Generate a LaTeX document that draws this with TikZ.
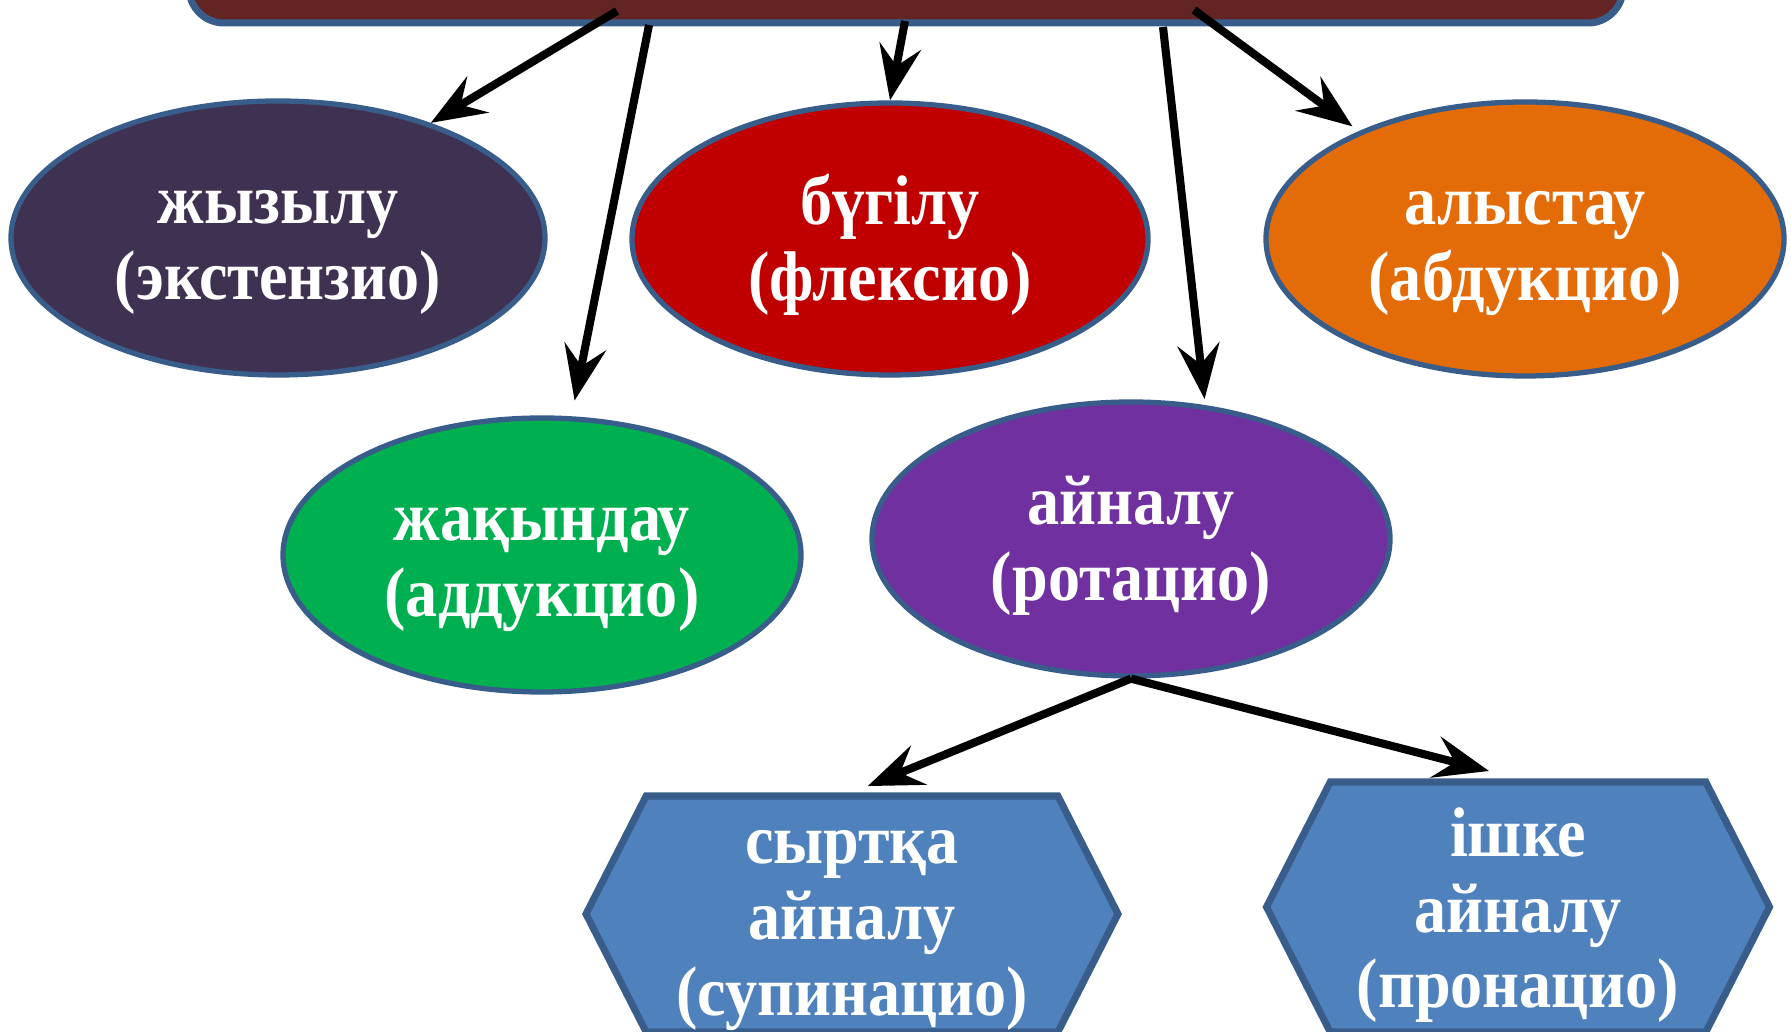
\documentclass[tikz,border=0pt]{standalone}
\usepackage{fontspec}
\setmainfont{Liberation Serif}[FakeStretch=0.913]
\usetikzlibrary{arrows.meta,positioning,calc,shapes.geometric,shapes.symbols}

\definecolor{barred}{HTML}{632523}
\definecolor{edge}{HTML}{385D8A}
\definecolor{extpurple}{HTML}{3F3151}
\definecolor{flexred}{HTML}{C00000}
\definecolor{abdorange}{HTML}{E36C09}
\definecolor{addgreen}{HTML}{00B050}
\definecolor{rotpurple}{HTML}{7030A0}
\definecolor{hexblue}{HTML}{4F81BD}

\begin{document}
\begin{tikzpicture}[
  font=\fontsize{20}{21.5}\selectfont\bfseries,
  >={Stealth[length=5.5mm, width=4.2mm, inset=2mm]},
  move/.style={ellipse, draw=edge, line width=1.5pt, text=white, align=center, text height=1.38cm, text depth=0.15cm, minimum width=5.18cm, minimum height=2.74cm, inner sep=0pt},
  turn/.style={signal, signal to=west and east, signal pointer angle=126, draw=edge, line width=2pt, fill=hexblue, text=white, align=center, text height=2.17cm, text depth=0.15cm, inner sep=0pt},
  link/.style={->, line width=2.3pt},
]
\useasboundingbox (0,0) rectangle (17.91,10.31);

% top bar, cut off by the upper edge
\node[draw=edge, line width=2pt, fill=barred, rounded corners=0.35cm, minimum width=14.34cm, minimum height=1.3cm] (root) at (9.06,10.73) {};

% first row of movements
\node[move, fill=extpurple, minimum width=5.34cm] (ext) at (2.78,7.93) {жызылу\\(экстензио)};
\node[move, fill=flexred, minimum width=5.16cm, minimum height=2.72cm] (flex) at (8.90,7.92) {бүгілу\\(флексио)};
\node[move, fill=abdorange] (abd) at (15.25,7.92) {алыстау\\(абдукцио)};

% second row
\node[move, fill=addgreen] (add) at (5.42,4.76) {жақындау\\(аддукцио)};
\node[move, fill=rotpurple] (rot) at (11.31,4.92) {айналу\\(ротацио)};

% kinds of rotation
\node[turn, minimum width=5.32cm, minimum height=2.36cm] (sup) at (8.52,1.17) {сыртқа\\айналу\\(супинацио)};
\node[turn, minimum width=5.03cm, minimum height=2.50cm] (pro) at (15.18,1.24) {ішке\\айналу\\(пронацио)};

% arrow starts on the bar
\coordinate (s1) at (6.17,10.20);
\coordinate (s2) at (6.49,10.06);
\coordinate (s3) at (9.05,10.10);
\coordinate (s4) at (11.63,10.04);
\coordinate (s5) at (11.94,10.21);

\draw[link] (s1) -- (ext.37);
\draw[link, shorten >=0.16cm] (s2) -- (add.78);
\draw[link] (s3) -- (flex.north);
\draw[link, shorten >=0.06cm] (s4) -- (rot.61);
\draw[link, shorten >=0.08cm] (s5) -- (abd.147);
\draw[link, shorten >=0.17cm] (rot.south) -- (sup.north);
\draw[link, shorten >=0.3cm] (rot.south) -- (pro.north);

\end{tikzpicture}
\end{document}
